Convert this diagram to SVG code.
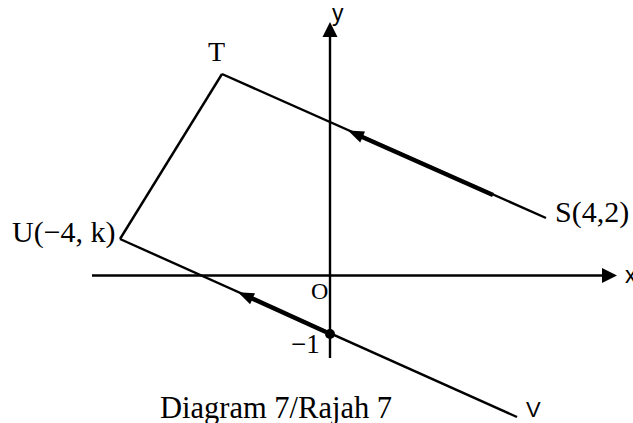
<svg xmlns="http://www.w3.org/2000/svg" width="633" height="423" viewBox="0 0 633 423">
<style>
.ln{stroke:#000;stroke-width:2.4;fill:none}
.thick{stroke:#000;stroke-width:4.5;fill:none}
.ah{fill:#000;stroke:none}
.serif{font-family:"Liberation Serif","Times New Roman",serif;fill:#000}
.sans{font-family:"Liberation Sans",Arial,sans-serif;fill:#000}
</style>
<rect width="633" height="423" fill="#fff"/>
<g id="axes">
<line class="ln" x1="92" y1="275.5" x2="604" y2="275.5"/>
<polygon class="ah" points="617,275.5 602,268 602,283"/>
<line class="ln" x1="330" y1="358" x2="330" y2="36"/>
<polygon class="ah" points="330,22 322.5,37 337.5,37"/>
<text class="sans" x="332" y="21" font-size="23">y</text>
<text class="sans" x="625" y="283" font-size="23">x</text>
<text class="serif" x="311" y="299" font-size="24">O</text>
</g>
<g id="connectors">
<line class="ln" x1="222" y1="74" x2="546" y2="218"/>
<line class="ln" x1="222" y1="74" x2="120" y2="239"/>
<line class="ln" x1="120" y1="239" x2="517" y2="417"/>
<line class="thick" x1="360" y1="136" x2="493" y2="195"/>
<polygon class="ah" points="348,130.5 365,131.5 360.2,142.5"/>
<line class="thick" x1="250" y1="297.5" x2="326" y2="332"/>
<polygon class="ah" points="238,292.3 255,293.3 250.1,304.3"/>
</g>
<g id="T"><text class="serif" x="208" y="61" font-size="28">T</text></g>
<g id="S"><text class="serif" x="555" y="222" font-size="30">S(4,2)</text></g>
<g id="U"><text class="serif" x="12" y="242" font-size="30">U(−4, k)</text></g>
<g id="P"><circle cx="330" cy="334" r="5" fill="#000"/><text class="serif" x="291" y="353" font-size="27">−1</text></g>
<g id="V"><text class="sans" x="526" y="417" font-size="22">V</text></g>
<g id="caption"><text class="serif" x="160" y="418" font-size="30.5">Diagram 7/Rajah 7</text></g>
</svg>
